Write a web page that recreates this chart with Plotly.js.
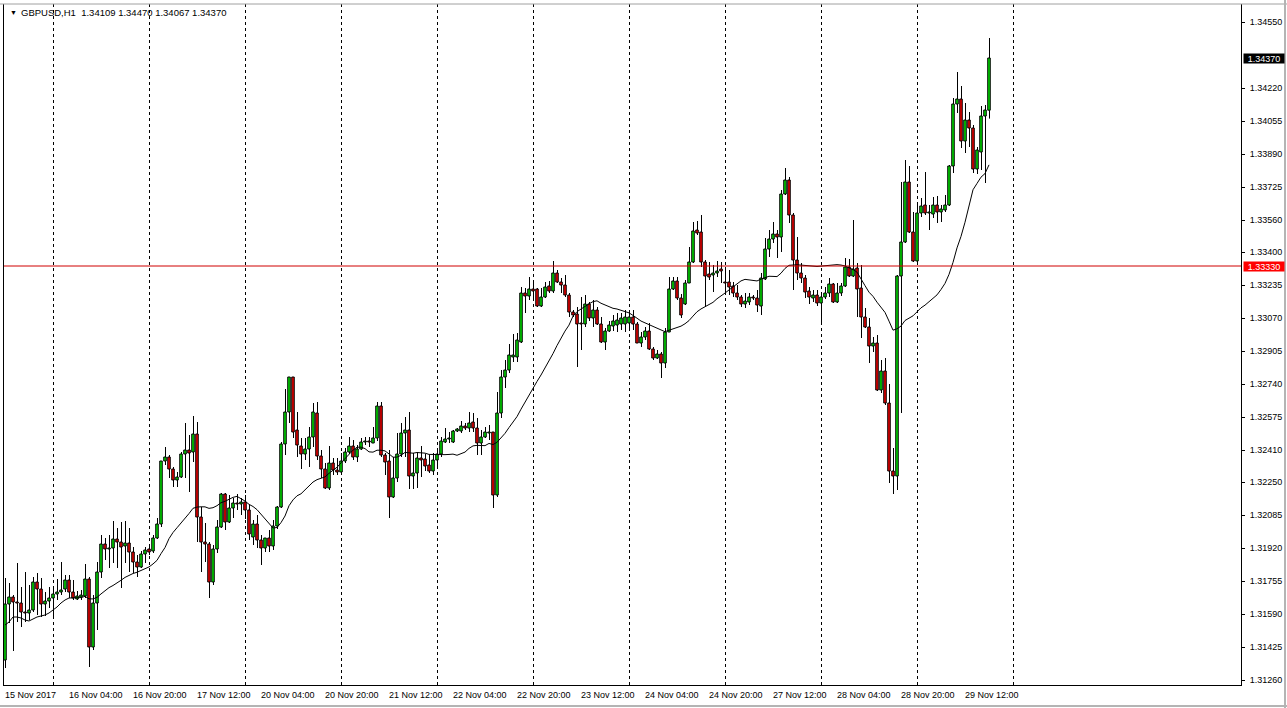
<!DOCTYPE html>
<html>
<head>
<meta charset="utf-8">
<script src="https://cdn.plot.ly/plotly-3.0.1.min.js"></script>
<style>
  html, body { margin: 0; padding: 0; background: #ffffff; overflow: hidden; }
  #chart { width: 1287px; height: 708px; }
</style>
</head>
<body>
<div id="chart"></div>
<script>
// ---------------- DATA ----------------
const symbol = 'GBPUSD,H1';
const firstLabel = '15 Nov 2017';
// trading days shown (H1 bars, first day starts 12:00, last day ends 18:00)
const days = ['15 Nov','16 Nov','17 Nov','20 Nov','21 Nov','22 Nov','23 Nov','24 Nov','27 Nov','28 Nov','29 Nov'];
const firstHour = 12;
const lastHour = 18;

const open = [
1.3136,1.3164,1.31675,1.3165,1.31645,1.316,1.31595,1.3161,1.3175,1.31715,
1.3164,1.31655,1.3167,1.3169,1.317,1.31715,1.3176,1.317,1.31665,1.31675,
1.3168,1.31765,1.31425,1.31645,1.318,1.3194,1.31915,1.3192,1.31965,1.3195,
1.3193,1.31945,1.319,1.3185,1.31825,1.3189,1.31915,1.31905,1.3197,1.3204,
1.32355,1.32375,1.32315,1.3226,1.32275,1.3239,1.3241,1.324,1.3249,1.32075,
1.3195,1.3194,1.3175,1.31915,1.32025,1.3219,1.3205,1.3212,1.32145,1.3214,
1.3215,1.3211,1.31975,1.3204,1.3196,1.3192,1.3197,1.3193,1.3203,1.32125,
1.3244,1.326,1.32775,1.3251,1.3243,1.3239,1.32415,1.32475,1.32595,1.3238,
1.32315,1.3222,1.32345,1.3231,1.323,1.32355,1.324,1.3243,1.32375,1.32415,
1.3245,1.32455,1.32445,1.3247,1.3263,1.32385,1.32355,1.32175,1.3227,1.3239,
1.32495,1.3251,1.3228,1.32295,1.3237,1.32365,1.32335,1.32305,1.3236,1.3239,
1.3245,1.32465,1.3245,1.32505,1.32505,1.3253,1.3252,1.3255,1.3252,1.32445,
1.32475,1.32495,1.325,1.32185,1.32595,1.32775,1.3281,1.32875,1.32875,1.3295,
1.33195,1.3318,1.33215,1.33215,1.3313,1.33175,1.3323,1.33205,1.33295,1.3325,
1.33235,1.33185,1.331,1.3309,1.33045,1.3304,1.3314,1.3307,1.3311,1.3304,
1.3295,1.33005,1.3303,1.33035,1.3304,1.3304,1.33045,1.33075,1.3304,1.32945,
1.32975,1.33005,1.32915,1.3287,1.3289,1.32845,1.33,1.33215,1.33255,1.3317,
1.3314,1.33245,1.3335,1.3351,1.335,1.3335,1.3329,1.33285,1.33295,1.33315,
1.3325,1.3325,1.3323,1.33195,1.33175,1.3314,1.3315,1.33175,1.3317,1.3313,
1.33265,1.33415,1.33465,1.3349,1.33475,1.3369,1.3376,1.33585,1.3336,1.33295,
1.3327,1.33205,1.3317,1.33185,1.33145,1.33175,1.33195,1.3324,1.3315,1.33195,
1.3323,1.33325,1.3328,1.3332,1.3322,1.33075,1.33025,1.3293,1.32945,1.3271,
1.32805,1.32645,1.32305,1.3228,1.3328,1.3345,1.3375,1.335,1.33355,1.33595,
1.33635,1.33595,1.3359,1.33635,1.336,1.3361,1.33635,1.3383,1.3414,1.34165,
1.33955,1.3406,1.3402,1.33815,1.339,1.3408,1.34109];

const high = [
1.3177,1.31745,1.31685,1.31845,1.31725,1.318,1.31735,1.31775,1.31795,1.3177,
1.317,1.31725,1.31715,1.31765,1.3185,1.31785,1.31785,1.3176,1.31705,1.3171,
1.3184,1.31775,1.31685,1.3185,1.31985,1.3197,1.31985,1.32055,1.3202,1.3205,
1.32055,1.3202,1.31925,1.31885,1.31905,1.31925,1.31925,1.31985,1.3207,1.32355,
1.32425,1.32385,1.32325,1.323,1.324,1.32545,1.32485,1.3258,1.3255,1.32125,
1.32045,1.3195,1.31935,1.3206,1.32195,1.32195,1.32185,1.3217,1.3219,1.3217,
1.32185,1.32135,1.3206,1.32085,1.31985,1.3197,1.3201,1.3206,1.3213,1.3245,
1.32715,1.32775,1.32775,1.326,1.3247,1.3247,1.32525,1.32645,1.3265,1.3241,
1.32345,1.3243,1.3237,1.3237,1.32395,1.3242,1.32475,1.3246,1.32435,1.3247,
1.32475,1.32475,1.32525,1.3265,1.3265,1.32395,1.3241,1.32375,1.32495,1.32545,
1.32575,1.326,1.32395,1.324,1.3243,1.3239,1.32385,1.32395,1.3241,1.32475,
1.3252,1.325,1.3251,1.3252,1.32555,1.32545,1.326,1.32595,1.3257,1.3251,
1.32525,1.32535,1.325,1.327,1.3281,1.3286,1.3294,1.3299,1.32995,1.33225,
1.3322,1.33275,1.3326,1.3322,1.3322,1.3325,1.33255,1.33355,1.3331,1.3327,
1.33285,1.33195,1.3311,1.33125,1.33175,1.33185,1.3315,1.3316,1.33125,1.33075,
1.3302,1.33055,1.33085,1.33095,1.33095,1.3311,1.3311,1.3311,1.3305,1.33,
1.33025,1.33045,1.32925,1.3291,1.329,1.3302,1.33275,1.33275,1.33275,1.3319,
1.3326,1.33425,1.3355,1.33555,1.33585,1.3336,1.3335,1.33335,1.33355,1.3335,
1.33325,1.3331,1.3325,1.33235,1.33185,1.33195,1.33195,1.33185,1.3321,1.33295,
1.3347,1.3351,1.3355,1.3351,1.3371,1.3382,1.33775,1.33595,1.33475,1.33345,
1.33285,1.33225,1.3321,1.3321,1.332,1.33225,1.3327,1.33245,1.33245,1.33245,
1.3337,1.33365,1.3356,1.33345,1.33335,1.3312,1.3307,1.32975,1.32985,1.3286,
1.3287,1.3274,1.3242,1.33285,1.3375,1.3386,1.3383,1.336,1.33635,1.3367,
1.338,1.33635,1.33675,1.3368,1.33635,1.33685,1.33835,1.3417,1.343,1.3423,
1.34145,1.341,1.34035,1.33925,1.3413,1.34135,1.3447];

const low = [
1.3132,1.31545,1.31405,1.3155,1.31525,1.3155,1.3156,1.316,1.31585,1.31575,
1.3158,1.3162,1.3157,1.3166,1.31685,1.317,1.3167,1.3166,1.3166,1.3166,
1.3167,1.31325,1.3141,1.3151,1.3177,1.3186,1.3182,1.31845,1.3182,1.3172,
1.31845,1.318,1.31795,1.31775,1.3182,1.31845,1.31885,1.31895,1.31965,1.32025,
1.32335,1.3227,1.32225,1.32225,1.3227,1.3227,1.322,1.3235,1.3195,1.318,
1.3185,1.3167,1.31735,1.31895,1.3202,1.3201,1.32045,1.3207,1.3211,1.32085,
1.32065,1.3196,1.31935,1.3192,1.31835,1.319,1.319,1.3191,1.32015,1.3212,
1.32385,1.32545,1.3247,1.32375,1.32315,1.3236,1.32325,1.32425,1.3236,1.3227,
1.32215,1.3221,1.32285,1.32285,1.32295,1.32345,1.3239,1.3236,1.3235,1.3241,
1.32435,1.32425,1.32445,1.32455,1.32375,1.32285,1.3207,1.3217,1.3225,1.32375,
1.32375,1.32215,1.32215,1.3222,1.32275,1.32305,1.32295,1.32285,1.32315,1.32375,
1.32445,1.32445,1.32445,1.325,1.32495,1.3251,1.325,1.325,1.32385,1.32385,
1.3247,1.3246,1.3212,1.32175,1.3257,1.3272,1.32795,1.3285,1.3285,1.32945,
1.33095,1.3316,1.3316,1.33125,1.33125,1.3317,1.33195,1.33195,1.33245,1.33195,
1.33175,1.33075,1.33075,1.32825,1.3291,1.33025,1.33055,1.33025,1.33035,1.32945,
1.3291,1.33,1.33005,1.33,1.3301,1.33,1.3301,1.3301,1.32945,1.32925,
1.3296,1.3291,1.3286,1.32865,1.3277,1.3282,1.33,1.3321,1.3316,1.3307,
1.33135,1.33245,1.33345,1.33485,1.33325,1.33125,1.3326,1.332,1.33275,1.33245,
1.332,1.33185,1.33175,1.3316,1.33125,1.3312,1.33135,1.3316,1.331,1.33085,
1.3326,1.33375,1.33445,1.3337,1.334,1.33685,1.33545,1.3321,1.3326,1.33245,
1.3317,1.3314,1.3315,1.3313,1.33035,1.33165,1.33175,1.33145,1.33145,1.3318,
1.33225,1.33275,1.33275,1.33075,1.3297,1.3302,1.32845,1.329,1.32705,1.32695,
1.32635,1.32245,1.3219,1.3221,1.32595,1.33445,1.33495,1.3335,1.33335,1.33575,
1.33585,1.3351,1.3357,1.33545,1.3355,1.336,1.3363,1.33795,1.34095,1.3392,
1.33895,1.33925,1.33795,1.3379,1.3381,1.33745,1.34067];

const close = [
1.3164,1.31675,1.3165,1.31645,1.316,1.31595,1.3161,1.3175,1.31715,1.3164,
1.31655,1.3167,1.3169,1.317,1.3171,1.3176,1.317,1.3167,1.3168,1.31685,
1.31765,1.31425,1.31645,1.318,1.3194,1.31915,1.3192,1.31965,1.3195,1.31925,
1.31945,1.319,1.3185,1.31825,1.3189,1.3191,1.319,1.3197,1.3204,1.32355,
1.32375,1.32315,1.3226,1.32275,1.3239,1.3241,1.32395,1.3249,1.32075,1.3195,
1.3194,1.3175,1.31915,1.32025,1.3219,1.3205,1.3212,1.32145,1.3214,1.3215,
1.3211,1.3199,1.3204,1.3196,1.3192,1.3197,1.3193,1.3203,1.32125,1.3244,
1.326,1.32775,1.325,1.32435,1.3239,1.32415,1.32475,1.326,1.3238,1.32315,
1.3222,1.32345,1.3231,1.323,1.32355,1.324,1.3243,1.32375,1.32415,1.3245,
1.32455,1.3245,1.3247,1.3263,1.32385,1.3235,1.32175,1.3227,1.3239,1.32495,
1.3251,1.3228,1.32295,1.3237,1.3236,1.3233,1.32305,1.3236,1.3239,1.32455,
1.32465,1.3247,1.32505,1.32515,1.3253,1.3252,1.32545,1.3252,1.32445,1.32475,
1.325,1.325,1.32185,1.32595,1.32775,1.3281,1.32885,1.32885,1.3296,1.33195,
1.3318,1.33215,1.33205,1.3313,1.33175,1.33225,1.33205,1.33295,1.3325,1.33235,
1.33185,1.331,1.33085,1.3304,1.3304,1.3314,1.3307,1.3311,1.3304,1.3295,
1.33005,1.33035,1.33055,1.3306,1.3307,1.33075,1.33075,1.3304,1.32945,1.32975,
1.33005,1.32915,1.3287,1.3289,1.32845,1.33,1.33215,1.33255,1.3317,1.33085,
1.33245,1.3335,1.33505,1.33495,1.3335,1.3328,1.33275,1.33295,1.33305,1.33305,
1.33245,1.33225,1.33195,1.33175,1.3314,1.33155,1.33175,1.3317,1.33135,1.3327,
1.33415,1.33465,1.3349,1.33475,1.3369,1.3376,1.33585,1.3336,1.33295,1.3327,
1.332,1.33175,1.33185,1.33145,1.33175,1.33195,1.3324,1.3315,1.33195,1.3323,
1.33325,1.3328,1.33315,1.33215,1.33075,1.33025,1.3293,1.32945,1.3271,1.32805,
1.32645,1.32305,1.3228,1.3328,1.3345,1.3375,1.335,1.33355,1.33595,1.3363,
1.33595,1.336,1.33635,1.336,1.33615,1.33635,1.3383,1.3414,1.34165,1.33955,
1.3406,1.3402,1.33815,1.3391,1.3408,1.3411,1.3437];

// moving average (20) values for the first bars,
// where the earlier history needed for the average is not shown
const maLead = [1.31535,1.3155,1.31575,1.31575,1.3157,1.3156,1.31555,1.31565,1.31575,1.3158,
                1.31585,1.31595,1.3161,1.31625,1.31645,1.3166,1.3167,1.3167,1.3167];
const maPeriod = 20;

// horizontal line drawn on the chart
const hLine = 1.33330;

// price axis tick labels
const yTickText = ['1.34550','1.34220','1.34055','1.33890','1.33725','1.33560','1.33400','1.33235',
  '1.33070','1.32905','1.32740','1.32575','1.32410','1.32250','1.32085','1.31920','1.31755',
  '1.31590','1.31425','1.31260'];

// ---------------- BUILD ----------------
const n = close.length;
const idx = close.map((_, i) => i);

// bar times
const barDay = [], barHour = [];
days.forEach((d, k) => {
  const h0 = k === 0 ? firstHour : 0;
  const h1 = k === days.length - 1 ? lastHour : 23;
  for (let h = h0; h <= h1; h++) { barDay.push(d); barHour.push(h); }
});

// day separators (start of each day, plus the next one to come)
const sep = [];
barHour.forEach((h, i) => { if (h === 0) sep.push(i); });
sep.push(sep[sep.length - 1] + 24);

// time labels every 16 bars
const timeLabels = [];
for (let i = 0; i < n; i += 16) {
  const t = i === 0 ? firstLabel : barDay[i] + ' ' + String(barHour[i]).padStart(2, '0') + ':00';
  timeLabels.push({ i: i, t: t });
}

// SMA(20) of closes
const ma = close.map((c, i) => {
  if (i < maPeriod - 1) return maLead[i];
  let s = 0;
  for (let k = i - maPeriod + 1; k <= i; k++) s += close[k];
  return s / maPeriod;
});

// ---------------- LAYOUT ----------------
const FIG_W = 1287, FIG_H = 708;
const M = { l: 4, r: 46, t: 4, b: 23 };
const PW = FIG_W - M.l - M.r, PH = FIG_H - M.t - M.b;
const px2x = px => (px - M.l) / PW;
const px2y = py => (M.t + PH - py) / PH;
const BAR_PX = 4;                       // pixels per bar
const x0 = -0.25;
const x1 = x0 + PW / BAR_PX;
const wickShift = 0.5 / BAR_PX;         // half a pixel, keeps the 1px wick sharp

// candle parts from OHLC
const bodyTop = idx.map(i => Math.max(open[i], close[i]));
const bodyBot = idx.map(i => Math.min(open[i], close[i]));
const bodyLen = idx.map(i => bodyTop[i] - bodyBot[i]);
const bodyCol = idx.map(i => close[i] >= open[i] ? '#00e000' : '#f00000');
const wickX = [], wickY = [];
idx.forEach(i => {
  const xi = i + wickShift;
  wickX.push(xi, xi, null, xi, xi, null);
  wickY.push(high[i], bodyTop[i], null, bodyBot[i], low[i], null);
});

const FONT = 'Liberation Sans, Arial, sans-serif';

const wicks = {
  type: 'scatter', mode: 'lines', x: wickX, y: wickY,
  line: { color: '#000000', width: 1 }, connectgaps: false,
  hoverinfo: 'skip', showlegend: false
};

const bodies = {
  type: 'bar', x: idx, y: bodyLen, base: bodyBot, width: 0.63,
  marker: { color: bodyCol, line: { color: '#000000', width: 1 } },
  hoverinfo: 'skip', showlegend: false
};

const maTrace = {
  type: 'scatter', mode: 'lines',
  x: idx, y: ma,
  line: { color: '#000000', width: 1 },
  hoverinfo: 'skip', showlegend: false
};

const last = n - 1;
const annotations = [];

// header
annotations.push({
  xref: 'paper', yref: 'paper', x: px2x(8), y: px2y(13),
  xanchor: 'left', yanchor: 'middle', showarrow: false,
  text: '▼', font: { family: FONT, size: 7, color: '#000' }
});
annotations.push({
  xref: 'paper', yref: 'paper', x: px2x(19), y: px2y(13),
  xanchor: 'left', yanchor: 'middle', showarrow: false,
  text: symbol + '\u00a0\u00a0' + [open[last], high[last], low[last], close[last]].map(v => v.toFixed(5)).join(' '),
  font: { family: FONT, size: 9.5, color: '#000' }
});

// time labels
timeLabels.forEach(l => {
  annotations.push({
    xref: 'x', yref: 'paper', x: l.i, y: 0,
    xanchor: 'left', yanchor: 'top', yshift: -3, xshift: -2, showarrow: false,
    text: l.t, font: { family: FONT, size: 9, color: '#000' }
  });
});

// current price tag
annotations.push({
  xref: 'paper', yref: 'y', x: 1, y: close[last], xshift: 2,
  xanchor: 'left', yanchor: 'middle', showarrow: false,
  text: close[last].toFixed(5), bgcolor: '#000000', width: 40, height: 9, borderpad: 0,
  font: { family: FONT, size: 9, color: '#ffffff' }
});
// horizontal line tag
annotations.push({
  xref: 'paper', yref: 'y', x: 1, y: hLine, xshift: 2,
  xanchor: 'left', yanchor: 'middle', showarrow: false,
  text: hLine.toFixed(5), bgcolor: '#ff0000', width: 40, height: 9, borderpad: 0,
  font: { family: FONT, size: 9, color: '#ffffff' }
});

const shapes = [
  { type: 'line', xref: 'paper', yref: 'y', x0: 0, x1: 1, y0: hLine, y1: hLine,
    line: { color: '#d00000', width: 1 } },
  // window frame
  { type: 'line', xref: 'paper', yref: 'paper', x0: px2x(0), x1: px2x(FIG_W), y0: 1, y1: 1,
    line: { color: '#a0a0a0', width: 1 } },
  { type: 'line', xref: 'paper', yref: 'paper', x0: px2x(1285), x1: px2x(1285), y0: px2y(0), y1: px2y(FIG_H),
    line: { color: '#b4b4b4', width: 2 } },
  { type: 'line', xref: 'paper', yref: 'paper', x0: px2x(0), x1: px2x(FIG_W), y0: px2y(706), y1: px2y(706),
    line: { color: '#b4b4b4', width: 2 } }
];

const layout = {
  width: FIG_W, height: FIG_H,
  margin: { l: M.l, r: M.r, t: M.t, b: M.b, pad: 0 },
  paper_bgcolor: '#ffffff', plot_bgcolor: '#ffffff',
  showlegend: false,
  hovermode: false,
  barmode: 'overlay', bargap: 0.2, bargroupgap: 0.1,
  xaxis: {
    type: 'linear', range: [x0, x1], fixedrange: true,
    tickmode: 'array', tickvals: sep, showticklabels: false,
    ticks: 'inside', ticklen: 3, tickcolor: '#000', tickwidth: 1,
    showgrid: true, gridcolor: '#000000', gridwidth: 1, griddash: '3px,3px',
    zeroline: false, showline: true, linecolor: '#000', linewidth: 1
  },
  yaxis: {
    side: 'right', range: [1.31235, 1.3464], fixedrange: true,
    tickmode: 'array', tickvals: yTickText.map(Number), ticktext: yTickText,
    ticks: 'outside', ticklen: 3, tickcolor: '#000', tickwidth: 1,
    ticklabelstandoff: 3,
    showgrid: false, zeroline: false,
    showline: true, mirror: true, linecolor: '#000', linewidth: 1,
    tickfont: { family: FONT, size: 9, color: '#000' }
  },
  annotations: annotations,
  shapes: shapes
};

Plotly.newPlot('chart', [bodies, wicks, maTrace], layout, { displayModeBar: false });
</script>
</body>
</html>
